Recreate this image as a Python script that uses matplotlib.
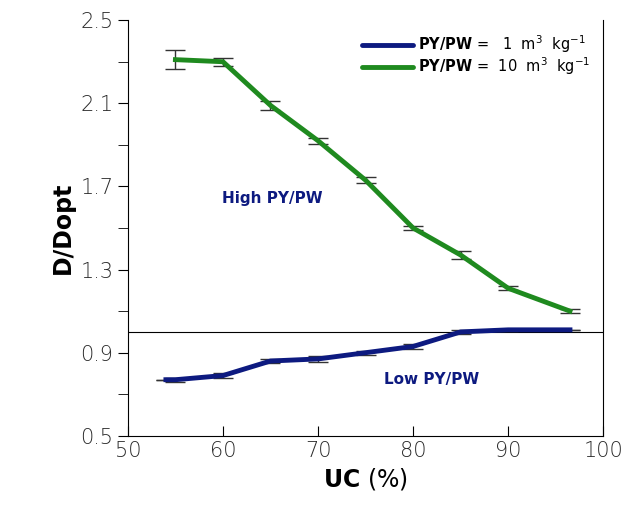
import matplotlib.pyplot as plt
from matplotlib.lines import Line2D

# data
uc_high = [55, 60, 65, 70, 75, 80, 85, 90, 96.5]
d_high = [2.31, 2.30, 2.09, 1.92, 1.73, 1.50, 1.37, 1.21, 1.10]
err_high = [0.045, 0.02, 0.02, 0.015, 0.015, 0.01, 0.02, 0.01, 0.01]

uc_low = [54, 55, 60, 65, 70, 75, 80, 85, 90, 96.5]
d_low = [0.77, 0.77, 0.79, 0.86, 0.87, 0.90, 0.93, 1.00, 1.01, 1.01]
err_low = [0.0, 0.01, 0.01, 0.01, 0.015, 0.01, 0.01, 0.01, 0.005, 0.0]

y_major = [0.5, 0.9, 1.3, 1.7, 2.1, 2.5]
y_minor = [0.7, 1.1, 1.5, 1.9, 2.3]

navy = "#0d1a80"
green = "#1f8a1f"

fig = plt.figure(figsize=(6.33, 5.17), dpi=100)
ax = fig.add_axes([0.202, 0.157, 0.751, 0.804])

ax.axhline(1.0, color="black", lw=0.8, zorder=1)

ax.errorbar(uc_low, d_low, yerr=err_low, color=navy, lw=3.5, ecolor="#333333",
            elinewidth=1, capsize=7, capthick=1, zorder=3)
ax.errorbar(uc_high, d_high, yerr=err_high, color=green, lw=3.5, ecolor="#333333",
            elinewidth=1, capsize=7, capthick=1, zorder=3)

handles = [Line2D([], [], color=navy, lw=3.5, solid_capstyle="round"),
           Line2D([], [], color=green, lw=3.5, solid_capstyle="round")]
labels = [r"$\mathbf{PY/PW}$ =   1  m$^3$  kg$^{-1}$",
          r"$\mathbf{PY/PW}$ =  10  m$^3$  kg$^{-1}$"]

ax.text(65.2, 1.64, "High PY/PW", color=navy, fontsize=11, fontweight="bold",
        ha="center", va="center")
ax.text(82, 0.77, "Low PY/PW", color=navy, fontsize=11, fontweight="bold",
        ha="center", va="center")

ax.set_xlim(50, 100)
ax.set_ylim(0.5, 2.5)
ax.set_xticks([50, 60, 70, 80, 90, 100])
ax.set_yticks(y_major)
ax.set_yticks(y_minor, minor=True)
ax.set_yticklabels([f"{v:.1f}" for v in y_major])
ax.tick_params(axis="x", direction="in", length=7, labelsize=15, labelcolor="#2a2a2a")
ax.tick_params(axis="y", which="both", direction="out", length=7, labelsize=15,
               labelcolor="#2a2a2a")
for lab in ax.get_xticklabels() + ax.get_yticklabels():
    lab.set_fontweight("light")
ax.spines["top"].set_visible(False)

ax.set_xlabel(r"$\mathbf{UC}$ (%)", fontsize=17)
ax.set_ylabel("D/Dopt", fontsize=17, fontweight="bold")

ax.legend(handles, labels, loc="upper right", bbox_to_anchor=(1.0, 1.0), frameon=False,
          fontsize=10.5, handlelength=3.5, labelspacing=0.0, handletextpad=0.3)

plt.savefig("out.png", dpi=100)
